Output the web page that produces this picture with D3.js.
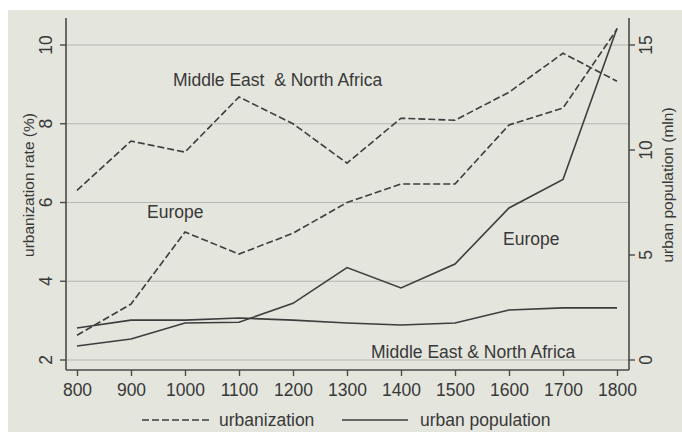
<!DOCTYPE html>
<html>
<head>
<meta charset="utf-8">
<script src="https://cdn.jsdelivr.net/npm/d3@7"></script>
<style>
  body { margin: 0; background: #fff; }
  svg { display: block; }
  text { font-family: "Liberation Sans", Arial, sans-serif; fill: #383838; }
</style>
</head>
<body>
<div id="chart"></div>
<script>
const years = [800, 900, 1000, 1100, 1200, 1300, 1400, 1500, 1600, 1700, 1800];
const urbMENA = [6.31, 7.56, 7.28, 8.68, 8.0, 7.0, 8.14, 8.09, 8.8, 9.79, 9.08];
const urbEurope = [2.63, 3.42, 5.25, 4.69, 5.22, 6.0, 6.47, 6.47, 7.97, 8.4, 10.4];
const popEurope = [0.67, 1.0, 1.76, 1.8, 2.7, 4.4, 3.43, 4.57, 7.24, 8.6, 15.8];
const popMENA = [1.52, 1.9, 1.9, 2.0, 1.9, 1.76, 1.67, 1.76, 2.38, 2.48, 2.48];
const leftTicks = [2, 4, 6, 8, 10];
const rightTicks = [0, 5, 10, 15];

const render = () => {
  const W = 682, H = 432;
  const svg = d3.select("#chart").append("svg").attr("width", W).attr("height", H);

  // paper-like background, white strip top and left
  svg.append("rect").attr("x", 8).attr("y", 10).attr("width", W - 8).attr("height", H - 10)
    .attr("fill", "#e4e5dd");

  const left = 66, right = 629, top = 18, bottom = 370;
  const fs = 17.5;

  const x = d3.scaleLinear().domain([800, 1800]).range([77, 617]);
  const yL = d3.scaleLinear().domain([2, 10]).range([360, 45]);
  const yR = d3.scaleLinear().domain([0, 15]).range([360, 45]);

  // gridlines
  svg.append("g").selectAll("line").data(leftTicks).join("line")
    .attr("x1", left).attr("x2", right)
    .attr("y1", (d) => yL(d)).attr("y2", (d) => yL(d))
    .attr("stroke", "#b6b7b0").attr("stroke-width", 1);

  // axes frame lines
  const frame = svg.append("g").attr("stroke", "#4a4a4a").attr("stroke-width", 1.6);
  frame.append("line").attr("x1", left).attr("x2", left).attr("y1", top).attr("y2", bottom);
  frame.append("line").attr("x1", right).attr("x2", right).attr("y1", top).attr("y2", bottom);
  frame.append("line").attr("x1", left).attr("x2", right).attr("y1", bottom).attr("y2", bottom);

  // x axis
  const xAxis = d3.axisBottom(x).tickValues(years).tickSize(6).tickFormat(d3.format("d"));
  const gx = svg.append("g").attr("transform", `translate(0,${bottom})`).call(xAxis);
  gx.select(".domain").remove();
  gx.selectAll("line").attr("stroke", "#4a4a4a").attr("stroke-width", 1.4);
  gx.selectAll("text").attr("font-size", fs).attr("y", 26).attr("dy", 0).attr("fill", "#383838");

  // left axis
  const gl = svg.append("g").attr("transform", `translate(${left},0)`)
    .call(d3.axisLeft(yL).tickValues(leftTicks).tickSize(6));
  gl.select(".domain").remove();
  gl.selectAll(".tick").attr("transform", null);
  gl.selectAll(".tick line").attr("y1", (d) => yL(d)).attr("y2", (d) => yL(d))
    .attr("stroke", "#4a4a4a").attr("stroke-width", 1.4);
  gl.selectAll("text")
    .attr("transform", (d) => `translate(-14,${yL(d)}) rotate(-90)`)
    .attr("x", 0).attr("y", 0).attr("dy", 0)
    .attr("text-anchor", "middle").attr("font-size", fs).attr("fill", "#383838");

  // right axis
  const gr = svg.append("g").attr("transform", `translate(${right},0)`)
    .call(d3.axisRight(yR).tickValues(rightTicks).tickSize(6));
  gr.select(".domain").remove();
  gr.selectAll(".tick").attr("transform", null);
  gr.selectAll(".tick line").attr("y1", (d) => yR(d)).attr("y2", (d) => yR(d))
    .attr("stroke", "#4a4a4a").attr("stroke-width", 1.4);
  gr.selectAll("text")
    .attr("transform", (d) => `translate(23,${yR(d)}) rotate(-90)`)
    .attr("x", 0).attr("y", 0).attr("dy", 0)
    .attr("text-anchor", "middle").attr("font-size", fs).attr("fill", "#383838");

  // axis titles
  svg.append("text").attr("transform", "translate(34,185) rotate(-90)")
    .attr("text-anchor", "middle").attr("font-size", 15.5)
    .text("urbanization rate (%)");
  svg.append("text").attr("transform", "translate(673,185) rotate(-90)")
    .attr("text-anchor", "middle").attr("font-size", 15.5)
    .text("urban population (mln)");

  // lines
  const lineL = d3.line().x((d, i) => x(years[i])).y((d) => yL(d));
  const lineR = d3.line().x((d, i) => x(years[i])).y((d) => yR(d));
  const lines = svg.append("g").attr("fill", "none").attr("stroke", "#3d3d3d")
    .attr("stroke-width", 1.6).attr("stroke-linejoin", "miter");
  lines.append("path").attr("d", lineL(urbMENA)).attr("stroke-dasharray", "7,3");
  lines.append("path").attr("d", lineL(urbEurope)).attr("stroke-dasharray", "7,3");
  lines.append("path").attr("d", lineR(popEurope));
  lines.append("path").attr("d", lineR(popMENA));

  // annotations
  const ann = [
    { t: "Middle East  & North Africa", x: 173, y: 80 },
    { t: "Europe", x: 147, y: 212 },
    { t: "Europe", x: 503, y: 239 },
    { t: "Middle East & North Africa", x: 371, y: 352 },
  ];
  svg.append("g").selectAll("text").data(ann).join("text")
    .attr("x", (d) => d.x).attr("y", (d) => d.y).attr("dy", "0.35em")
    .attr("font-size", fs).style("white-space", "pre")
    .text((d) => d.t);

  // legend
  const leg = svg.append("g").attr("stroke", "#3d3d3d").attr("stroke-width", 1.6);
  leg.append("line").attr("x1", 142).attr("x2", 209).attr("y1", 420).attr("y2", 420)
    .attr("stroke-dasharray", "7,3");
  leg.append("line").attr("x1", 342).attr("x2", 408).attr("y1", 420).attr("y2", 420);
  svg.append("text").attr("x", 219).attr("y", 420).attr("dy", "0.35em").attr("font-size", fs)
    .text("urbanization");
  svg.append("text").attr("x", 420).attr("y", 420).attr("dy", "0.35em").attr("font-size", fs)
    .text("urban population");
};

render();
</script>
</body>
</html>
